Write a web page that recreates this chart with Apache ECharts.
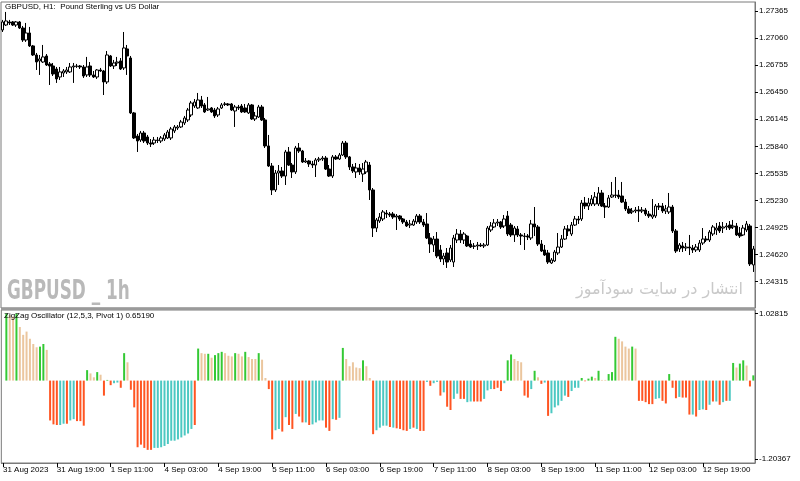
<!DOCTYPE html>
<html><head><meta charset="utf-8">
<script src="https://cdn.jsdelivr.net/npm/echarts@6/dist/echarts.min.js"></script>
<style>html,body{margin:0;padding:0;background:#fff}#c{width:800px;height:481px}</style>
</head><body><div id="c"></div>
<script>
// ---------------- DATA ----------------
const priceTicks = [1.27365, 1.27060, 1.26755, 1.26450, 1.26145, 1.25840, 1.25535, 1.25230, 1.24925, 1.24620, 1.24315];
const oscTicks = [1.02815, -1.20367];
const xTickLabels = ['31 Aug 2023','31 Aug 19:00','1 Sep 11:00','4 Sep 03:00','4 Sep 19:00','5 Sep 11:00','6 Sep 03:00','6 Sep 19:00','7 Sep 11:00','8 Sep 03:00','8 Sep 19:00','11 Sep 11:00','12 Sep 03:00','12 Sep 19:00'];

const opens = [
1.27151,1.27207,1.27241,1.27241,1.27207,1.27241,1.27173,1.27038,1.27117,1.26971,
1.26869,1.26802,1.26790,1.26858,1.26768,1.26745,1.26711,1.26621,1.26666,1.26678,
1.26678,1.26734,1.26745,1.26745,1.26734,1.26644,1.26745,1.26644,1.26621,1.26700,
1.26689,1.26565,1.26858,1.26745,1.26779,1.26802,1.26723,1.26937,1.26835,1.26216,
1.25956,1.25911,1.25990,1.25945,1.25877,1.25877,1.25911,1.25900,1.25922,1.25934,
1.25934,1.26013,1.26046,1.26058,1.26103,1.26137,1.26193,1.26294,1.26272,1.26362,
1.26306,1.26249,1.26272,1.26249,1.26193,1.26272,1.26317,1.26317,1.26317,1.26238,
1.26283,1.26294,1.26272,1.26216,1.26306,1.26148,1.26170,1.26283,1.26137,1.25844,
1.25618,1.25348,1.25539,1.25562,1.25505,1.25776,1.25629,1.25551,1.25821,1.25787,
1.25663,1.25675,1.25641,1.25629,1.25686,1.25697,1.25708,1.25584,1.25505,1.25720,
1.25697,1.25742,1.25877,1.25720,1.25607,1.25551,1.25596,1.25528,1.25551,1.25629,
1.25348,1.24919,1.24998,1.25021,1.25088,1.25077,1.25077,1.25043,1.25055,1.25021,
1.24987,1.24953,1.24953,1.24987,1.25055,1.24987,1.24965,1.24807,1.24728,1.24795,
1.24672,1.24570,1.24638,1.24559,1.24536,1.24784,1.24852,1.24784,1.24829,1.24739,
1.24717,1.24717,1.24728,1.24717,1.24728,1.24897,1.24931,1.24976,1.24987,1.24942,
1.25055,1.24953,1.24841,1.24908,1.24841,1.24829,1.24829,1.24807,1.24965,1.24931,
1.24739,1.24672,1.24638,1.24525,1.24548,1.24638,1.24705,1.24795,1.24908,1.24852,
1.24953,1.25021,1.25021,1.25201,1.25167,1.25190,1.25190,1.25190,1.25314,1.25167,
1.25156,1.25269,1.25291,1.25291,1.25280,1.25212,1.25134,1.25100,1.25111,1.25122,
1.25111,1.25122,1.25077,1.25043,1.25055,1.25167,1.25167,1.25111,1.25100,1.25156,
1.24886,1.24683,1.24717,1.24694,1.24705,1.24694,1.24672,1.24672,1.24750,1.24795,
1.24784,1.24852,1.24897,1.24942,1.24919,1.24931,1.24953,1.24931,1.24942,1.24863,
1.24841,1.24897,1.24942,1.24503];

const closes = [
1.27241,1.27252,1.27230,1.27207,1.27241,1.27173,1.27038,1.27117,1.26971,1.26869,
1.26790,1.26824,1.26847,1.26756,1.26745,1.26655,1.26599,1.26678,1.26689,1.26700,
1.26734,1.26745,1.26741,1.26734,1.26632,1.26734,1.26644,1.26621,1.26700,1.26689,
1.26565,1.26869,1.26745,1.26779,1.26790,1.26711,1.26948,1.26858,1.26216,1.25934,
1.25900,1.25990,1.25900,1.25877,1.25866,1.25911,1.25906,1.25934,1.25968,1.26001,
1.26035,1.26058,1.26058,1.26114,1.26159,1.26249,1.26328,1.26339,1.26362,1.26294,
1.26227,1.26261,1.26227,1.26182,1.26261,1.26306,1.26313,1.26306,1.26249,1.26283,
1.26272,1.26227,1.26227,1.26306,1.26148,1.26182,1.26283,1.26137,1.25844,1.25618,
1.25348,1.25539,1.25562,1.25505,1.25776,1.25629,1.25551,1.25821,1.25787,1.25663,
1.25675,1.25641,1.25629,1.25686,1.25697,1.25708,1.25584,1.25505,1.25720,1.25697,
1.25742,1.25877,1.25720,1.25607,1.25562,1.25596,1.25551,1.25584,1.25663,1.25348,
1.24919,1.25010,1.25043,1.25100,1.25077,1.25066,1.25043,1.25055,1.25021,1.24987,
1.24942,1.24965,1.24998,1.25055,1.24987,1.24953,1.24807,1.24739,1.24795,1.24604,
1.24570,1.24604,1.24536,1.24694,1.24807,1.24852,1.24784,1.24852,1.24717,1.24705,
1.24713,1.24728,1.24717,1.24728,1.24919,1.24942,1.24976,1.24987,1.24931,1.25021,
1.24852,1.24841,1.24919,1.24841,1.24829,1.24825,1.24818,1.24965,1.24931,1.24739,
1.24660,1.24615,1.24536,1.24559,1.24649,1.24705,1.24795,1.24908,1.24886,1.24953,
1.25021,1.25010,1.25201,1.25167,1.25201,1.25246,1.25269,1.25314,1.25167,1.25156,
1.25258,1.25291,1.25287,1.25269,1.25212,1.25134,1.25088,1.25111,1.25122,1.25111,
1.25122,1.25077,1.25055,1.25066,1.25167,1.25156,1.25111,1.25134,1.25156,1.24886,
1.24660,1.24728,1.24694,1.24705,1.24694,1.24672,1.24705,1.24750,1.24795,1.24784,
1.24874,1.24931,1.24919,1.24886,1.24931,1.24942,1.24919,1.24942,1.24841,1.24829,
1.24919,1.24965,1.24514,1.24683];

const lows = [
1.27128,1.27196,1.27207,1.27196,1.27185,1.27162,1.27016,1.27016,1.26959,1.26858,
1.26700,1.26644,1.26779,1.26745,1.26531,1.26632,1.26554,1.26587,1.26621,1.26655,
1.26666,1.26554,1.26723,1.26711,1.26610,1.26621,1.26621,1.26610,1.26599,1.26678,
1.26418,1.26542,1.26734,1.26711,1.26745,1.26700,1.26700,1.26644,1.26204,1.25922,
1.25776,1.25889,1.25877,1.25855,1.25832,1.25855,1.25877,1.25877,1.25900,1.25922,
1.25911,1.25990,1.26024,1.26046,1.26080,1.26114,1.26170,1.26272,1.26261,1.26272,
1.26216,1.26238,1.26216,1.26159,1.26170,1.26261,1.26294,1.26294,1.26238,1.26058,
1.26249,1.26216,1.26216,1.26204,1.26137,1.26125,1.26159,1.26125,1.25821,1.25607,
1.25291,1.25325,1.25404,1.25483,1.25404,1.25618,1.25483,1.25528,1.25765,1.25652,
1.25652,1.25607,1.25596,1.25494,1.25663,1.25675,1.25573,1.25494,1.25483,1.25686,
1.25686,1.25731,1.25697,1.25573,1.25539,1.25483,1.25517,1.25438,1.25528,1.25235,
1.24818,1.24874,1.24976,1.24998,1.25032,1.25043,1.25021,1.24897,1.24998,1.24965,
1.24931,1.24919,1.24942,1.24965,1.24965,1.24931,1.24795,1.24638,1.24649,1.24581,
1.24536,1.24503,1.24469,1.24536,1.24480,1.24750,1.24750,1.24739,1.24705,1.24694,
1.24683,1.24672,1.24705,1.24694,1.24717,1.24874,1.24919,1.24942,1.24908,1.24919,
1.24829,1.24818,1.24762,1.24818,1.24728,1.24672,1.24784,1.24784,1.24829,1.24717,
1.24649,1.24604,1.24514,1.24514,1.24536,1.24615,1.24694,1.24784,1.24829,1.24829,
1.24942,1.24965,1.24998,1.25134,1.25122,1.25167,1.25167,1.25167,1.25156,1.25032,
1.25145,1.25258,1.25258,1.25246,1.25201,1.25111,1.25077,1.25077,1.25088,1.24987,
1.25088,1.25055,1.25032,1.25021,1.25032,1.25122,1.25088,1.25077,1.25077,1.24863,
1.24638,1.24649,1.24649,1.24660,1.24615,1.24638,1.24649,1.24649,1.24728,1.24762,
1.24762,1.24829,1.24841,1.24863,1.24863,1.24897,1.24897,1.24908,1.24829,1.24807,
1.24829,1.24874,1.24491,1.24424];

const highs = [
1.27264,1.27354,1.27264,1.27252,1.27252,1.27252,1.27196,1.27230,1.27185,1.26982,
1.26892,1.26869,1.26982,1.26880,1.26790,1.26779,1.26734,1.26734,1.26711,1.26734,
1.26779,1.26779,1.26768,1.26756,1.26756,1.26847,1.26790,1.26689,1.26711,1.26723,
1.26700,1.26914,1.26869,1.26813,1.26847,1.26835,1.27128,1.26982,1.26858,1.26227,
1.25979,1.26013,1.26013,1.25968,1.25922,1.25945,1.25945,1.25956,1.25990,1.26024,
1.26058,1.26080,1.26080,1.26137,1.26182,1.26272,1.26351,1.26373,1.26441,1.26407,
1.26328,1.26396,1.26283,1.26272,1.26283,1.26328,1.26339,1.26328,1.26328,1.26306,
1.26306,1.26317,1.26317,1.26328,1.26317,1.26227,1.26306,1.26306,1.26159,1.25968,
1.25652,1.25573,1.25629,1.25607,1.25799,1.25832,1.25652,1.25844,1.25877,1.25799,
1.25708,1.25686,1.25675,1.25708,1.25720,1.25731,1.25731,1.25629,1.25742,1.25742,
1.25765,1.25900,1.25900,1.25731,1.25641,1.25652,1.25641,1.25652,1.25686,1.25663,
1.25370,1.25032,1.25088,1.25122,1.25122,1.25100,1.25100,1.25077,1.25066,1.25032,
1.25010,1.25010,1.25021,1.25077,1.25077,1.25021,1.25088,1.24863,1.24829,1.24874,
1.24728,1.24638,1.24694,1.24728,1.24841,1.24908,1.24897,1.24874,1.24841,1.24784,
1.24750,1.24762,1.24750,1.24750,1.24942,1.24987,1.25021,1.25021,1.24998,1.25066,
1.25111,1.24976,1.24942,1.24942,1.24863,1.24863,1.24852,1.25010,1.25156,1.24953,
1.24784,1.24728,1.24672,1.24581,1.24672,1.24863,1.24841,1.24942,1.24953,1.24987,
1.25055,1.25055,1.25235,1.25269,1.25258,1.25291,1.25325,1.25381,1.25348,1.25201,
1.25291,1.25438,1.25494,1.25348,1.25438,1.25246,1.25167,1.25145,1.25156,1.25167,
1.25156,1.25145,1.25111,1.25246,1.25190,1.25201,1.25201,1.25179,1.25314,1.25179,
1.24908,1.24750,1.24762,1.24750,1.24841,1.24728,1.24739,1.24784,1.24919,1.24829,
1.24897,1.24953,1.24976,1.24987,1.24987,1.24976,1.24998,1.25010,1.24976,1.24931,
1.24953,1.24998,1.24965,1.24717];

// ZigZag oscillator value per bar (first bar hidden behind the frame)
const oscValues = [null,
1.028,1.00,0.98,1.028,0.82,0.70,0.75,0.64,0.56,0.51,
0.52,0.56,0.47,-0.61,-0.67,-0.68,-0.68,-0.66,-0.66,-0.61,
-0.59,-0.62,-0.62,-0.69,0.16,0.11,0.05,0.13,0.09,-0.23,
0.01,-0.07,-0.04,-0.03,-0.11,0.42,0.28,-0.14,-0.41,-1.02,
-0.98,-1.03,-1.06,-1.06,-1.03,-1.03,-1.02,-1.00,-0.97,-0.92,
-0.92,-0.90,-0.87,-0.84,-0.81,-0.74,-0.68,0.49,0.42,0.41,
0.41,0.35,0.39,0.42,0.44,0.42,0.38,0.37,0.42,0.41,
0.37,0.44,0.36,0.33,0.33,0.42,0.32,0.04,-0.13,-0.90,
-0.76,-0.74,-0.78,-0.56,-0.68,-0.74,-0.51,-0.55,-0.64,-0.64,
-0.68,-0.67,-0.64,-0.61,-0.61,-0.72,-0.77,-0.59,-0.60,-0.57,
0.50,0.33,0.22,0.28,0.20,0.19,0.31,0.22,0.04,-0.82,
-0.76,-0.72,-0.69,-0.69,-0.71,-0.72,-0.73,-0.74,-0.76,-0.77,
-0.74,-0.72,-0.74,-0.77,-0.77,-0.02,-0.08,-0.04,-0.02,-0.23,
-0.18,-0.40,-0.45,-0.28,-0.20,-0.28,-0.28,-0.33,-0.32,-0.32,
-0.32,-0.32,-0.28,-0.15,-0.13,-0.13,-0.11,-0.16,-0.04,0.31,
0.40,0.33,0.30,0.28,-0.23,-0.26,-0.13,0.15,0.05,-0.05,
-0.03,-0.54,-0.50,-0.41,-0.38,-0.31,-0.23,-0.25,-0.16,-0.11,
-0.11,0.04,-0.01,0.03,0.06,0.04,0.15,0.01,0.01,0.10,
0.13,0.67,0.64,0.60,0.52,0.49,0.52,0.49,-0.31,-0.31,
-0.33,-0.36,-0.36,-0.28,-0.27,-0.31,-0.35,0.10,-0.11,-0.27,
-0.25,-0.26,-0.26,-0.52,-0.52,-0.55,-0.45,-0.44,-0.45,-0.37,
-0.32,-0.32,-0.37,-0.33,-0.31,-0.31,0.27,0.20,0.26,0.31,
0.23,-0.09,0.08];

// phase per bar: UP = above zero & growing, UW = above zero & weakening,
// DN = below zero & growing, DW = below zero & weakening
const oscPhase = ('- ' +
'UP UW UW UP UW UW UW UW UW UW ' +
'UP UP UW DN DN DN DW DW DN DW ' +
'DW DN DN DN UP UW UW UP UW DN ' +
'UP DN DW DW DN UP UW DN DN DN ' +
'DN DN DN DN DW DW DW DW DW DW ' +
'DW DW DW DW DW DW DN UP UW UW ' +
'UP UW UP UP UP UW UW UW UP UW ' +
'UW UP UW UW UW UP UW UW DN DN ' +
'DW DW DN DW DN DN DW DN DN DW ' +
'DN DW DW DW DW DN DN DW DN DW ' +
'UP UW UW UW UW UW UP UW UW DN ' +
'DW DW DW DW DN DW DN DN DN DN ' +
'DW DN DW DN DN DW DN DW DW DN ' +
'DW DN DN DW DW DN DN DW DW DN ' +
'DN DN DW DW DW DN DN DN DW UP ' +
'UP UW UW UW DN DN DW UP UW DN ' +
'DW DN DW DW DW DW DW DN DW DW ' +
'DW UP DN UP UP UW UP UW UW UP ' +
'UP UP UW UW UW UW UP UW DN DN ' +
'DN DN DN DW DW DN DN UP DN DN ' +
'DW DN DN DN DW DN DW DW DN DW ' +
'DN DW DN DW DN DW UP UW UP UP ' +
'UW DN UP').split(' ');

// hourly bar times (weekends skipped), first bar 31 Aug 2023 03:00
const categories = (function () {
  const out = []; const mon = ['Jan','Feb','Mar','Apr','May','Jun','Jul','Aug','Sep','Oct','Nov','Dec'];
  let t = Date.UTC(2023, 7, 31, 3);
  while (out.length < opens.length) {
    const d = new Date(t); const wd = d.getUTCDay();
    if (wd !== 0 && wd !== 6) out.push(d.getUTCDate() + ' ' + mon[d.getUTCMonth()] + ' ' + String(d.getUTCHours()).padStart(2,'0') + ':00');
    t += 3600000;
  }
  return out;
})();

// ---------------- STYLE / CHART ----------------
const FONT = 'Liberation Sans';
const FS = 8;
const phaseColor = { UP: '#34c934', UW: '#ebc69e', DN: '#ff5522', DW: '#4cc8c2' };
const candleData = opens.map((o, i) => [o, closes[i], lows[i], highs[i]]);
const oscData = oscValues.map((v, i) => ({ value: v, itemStyle: { color: phaseColor[oscPhase[i]] || '#34c934' } }));
const tickEvery = 16;

const chart = echarts.init(document.getElementById('c'), null, { renderer: 'canvas' });
chart.setOption({
  animation: false,
  backgroundColor: '#ffffff',
  grid: [
    { left: 1, top: 2, width: 754, height: 306, show: true, borderColor: '#7a7a7a', borderWidth: 1, backgroundColor: '#fff' },
    { left: 1, top: 310, width: 754, height: 153, show: true, borderColor: '#7a7a7a', borderWidth: 1, backgroundColor: '#fff' }
  ],
  xAxis: [
    { type: 'category', gridIndex: 0, data: categories, boundaryGap: true,
      axisLine: { show: false }, axisTick: { show: false }, axisLabel: { show: false }, splitLine: { show: false } },
    { type: 'category', gridIndex: 1, data: categories, boundaryGap: true,
      axisLine: { show: true, onZero: false, lineStyle: { color: '#7a7a7a' } },
      axisTick: { show: true, alignWithLabel: true, interval: (i) => i % tickEvery === 0, length: 4, lineStyle: { color: '#000' } },
      axisLabel: { interval: (i) => i % tickEvery === 0, formatter: (v, i) => xTickLabels[Math.round(i / tickEvery)] || '',
        align: 'left', margin: 3, fontSize: FS, fontFamily: FONT, color: '#000' },
      splitLine: { show: false } }
  ],
  yAxis: [
    { type: 'value', gridIndex: 0, position: 'right', min: 1.24018, max: 1.27466, scale: true,
      axisLine: { show: true, lineStyle: { color: '#7a7a7a' } },
      axisTick: { show: true, customValues: priceTicks, length: 3, lineStyle: { color: '#000' } },
      axisLabel: { customValues: priceTicks, formatter: (v) => v.toFixed(5), margin: 4, fontSize: FS, fontFamily: FONT, color: '#000' },
      splitLine: { show: false } },
    { type: 'value', gridIndex: 1, position: 'right', min: -1.2611, max: 1.0802,
      axisLine: { show: true, lineStyle: { color: '#7a7a7a' } },
      axisTick: { show: true, customValues: oscTicks, length: 3, lineStyle: { color: '#000' } },
      axisLabel: { customValues: oscTicks, formatter: (v) => v.toFixed(5), margin: 4, fontSize: FS, fontFamily: FONT, color: '#000' },
      splitLine: { show: false } }
  ],
  series: [
    { type: 'candlestick', xAxisIndex: 0, yAxisIndex: 0, data: candleData, barWidth: 3,
      itemStyle: { color: '#ffffff', color0: '#000000', borderColor: '#000000', borderColor0: '#000000', borderWidth: 1 } },
    { type: 'bar', xAxisIndex: 1, yAxisIndex: 1, data: oscData, barWidth: 2 }
  ],
  graphic: [
    { type: 'rect', shape: { x: 1, y: 307.5, width: 754, height: 2.5 }, style: { fill: '#9a9a9a' }, z: 10 },
    { type: 'text', left: 5, top: 3, z: 100, style: { text: 'GBPUSD, H1:  Pound Sterling vs US Dollar', font: FS + 'px "Liberation Sans"', fill: '#000' } },
    { type: 'text', left: 4, top: 312, z: 100, style: { text: 'ZigZag Oscillator (12,5,3, Pivot 1) 0.65190', font: FS + 'px "Liberation Sans"', fill: '#000' } },
    { type: 'text', x: 7, y: 279, scaleX: 0.72, z: 100, style: { text: 'GBPUSD _ 1h', font: 'bold 26px "DejaVu Sans Condensed"', fill: '#b9b9b9' } },
    { type: 'text', x: 743, y: 282, z: 100, style: { text: 'انتشار در سایت سودآموز', font: '16px "DejaVu Sans"', fill: '#c9c9c9', align: 'right' } }
  ]
});
</script>
</body></html>
